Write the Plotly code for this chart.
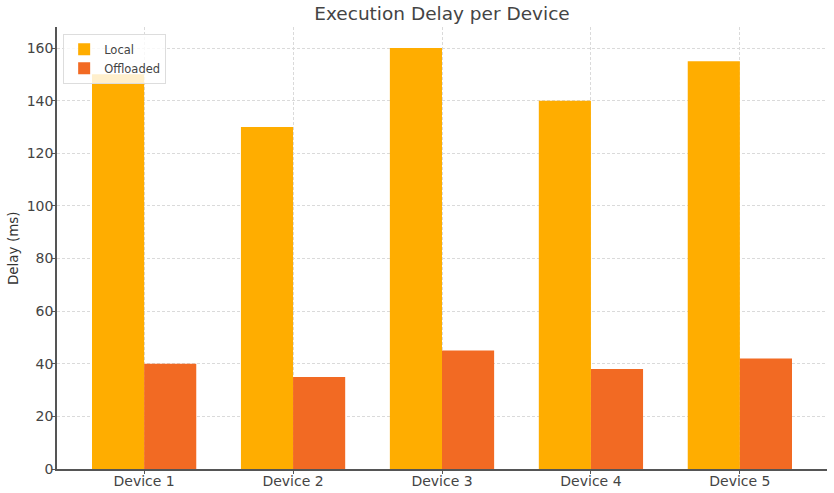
import plotly.graph_objects as go

devices = ["Device 1", "Device 2", "Device 3", "Device 4", "Device 5"]
local_delay = [150, 130, 160, 140, 155]
offloaded_delay = [40, 35, 45, 38, 42]
y_ticks = [0, 20, 40, 60, 80, 100, 120, 140, 160]

x_pos = list(range(len(devices)))

fig = go.Figure()
fig.add_trace(go.Bar(x=x_pos, y=local_delay, name="Local", marker=dict(color="#FFAD00", line=dict(width=0)), offset=-0.35, width=0.35))
fig.add_trace(go.Bar(x=x_pos, y=offloaded_delay, name="Offloaded", marker=dict(color="#F26A23", line=dict(width=0)), offset=0.0, width=0.35))

fig.update_layout(
    width=834, height=493,
    margin=dict(l=57, r=7, t=27, b=24),
    paper_bgcolor="white", plot_bgcolor="white",
    font=dict(family="DejaVu Sans", color="#444444", size=14),
    title=dict(text="Execution Delay per Device", x=0.53, xanchor="center", y=0.972, yanchor="middle",
               font=dict(size=18.5, color="#444444")),
    showlegend=True,
    legend=dict(x=0.008, y=0.985, xanchor="left", yanchor="top", bgcolor="rgba(255,255,255,0.8)",
                bordercolor="#DDDDDD", borderwidth=1, font=dict(size=11.5, color="#444444"),
                itemwidth=30, tracegroupgap=0),
    bargap=0.3,
    annotations=[dict(text="Delay (ms)", textangle=-90, xref="paper", yref="paper",
                      x=-0.057, y=0.5, xanchor="center", yanchor="middle", showarrow=False,
                      font=dict(size=13.5, color="#333333"))],
)
fig.update_xaxes(range=[-0.585, 4.585], tickmode="array", tickvals=x_pos, ticktext=devices,
                 showline=True, linecolor="#555555", linewidth=1.5, ticks="outside", ticklen=3, tickcolor="#555555",
                 showgrid=True, gridcolor="#DADADA", griddash="3px,2px", gridwidth=1, zeroline=False,
                 automargin=False, ticklabelstandoff=-5, tickfont=dict(size=14, color="#444444"))
fig.update_yaxes(range=[0, 168], tickmode="array", tickvals=y_ticks,
                 showline=True, linecolor="#555555", linewidth=1.5, ticks="outside", ticklen=3, tickcolor="#555555",
                 showgrid=True, gridcolor="#DADADA", griddash="3px,2px", gridwidth=1, zeroline=False,
                 automargin=False, ticklabelstandoff=-4,
                 tickfont=dict(size=14, color="#444444"))

fig.write_html("out.html")
